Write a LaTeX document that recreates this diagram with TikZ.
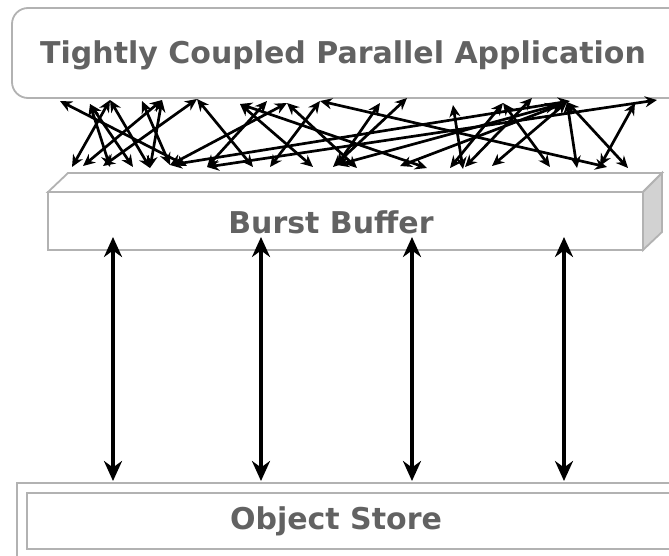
\documentclass[tikz,border=0pt]{standalone}
\usepackage{fontspec}
\setmainfont{DejaVu Sans}
\usetikzlibrary{arrows.meta}
\definecolor{boxline}{RGB}{178,178,178}
\definecolor{labelgray}{RGB}{98,98,98}
\definecolor{sidegray}{RGB}{210,210,210}

\begin{document}
\begin{tikzpicture}[x=1pt,y=-1pt,
  labeltext/.style={font=\bfseries\fontsize{30}{32}\selectfont, text=labelgray},
  mesh/.style={line width=2.7pt, {Stealth[length=12pt,width=11pt]}-{Stealth[length=12pt,width=11pt]}},
  link/.style={line width=3.8pt, {Stealth[length=20pt,width=18pt]}-{Stealth[length=20pt,width=18pt]}},
  frame/.style={draw=boxline, line width=1.8pt}]

\clip (0,0) rectangle (669,555);
\fill[white] (0,0) rectangle (669,555);

% application box
\draw[frame, rounded corners=16pt] (12,8) rectangle (700,98);
\node[labeltext] (app) at (343,55) {Tightly Coupled Parallel Application};

% burst buffer slab
\draw[frame, fill=white] (48,192) -- (68,173) -- (662,173) -- (643,192) -- cycle;
\draw[frame, fill=sidegray] (643,192) -- (662,173) -- (662,232) -- (643,250) -- cycle;
\draw[frame, fill=white] (48,192) rectangle (643,250);
\node[labeltext] (bb) at (331,222) {Burst Buffer};

% object store
\draw[frame] (17,483) rectangle (720,600);
\draw[frame] (27,493) rectangle (720,549);
\node[labeltext] (os) at (336,521) {Object Store};

% ends of the many-to-many links
\foreach \n/\x/\y in {60/60/101, 90/90/104, 110/110/100, 142/142/101, 162/162/100,
  197/197/99, 240/240/104, 267/267/101, 287/287/103, 320/320/101, 380/380/103,
  407/407/98, 453/453/105, 503/503/103, 532/532/98, 557/557/105, 563/563/104,
  567/567/102, 570/570/101, 635/635/103, 657/657/100}
  \coordinate (t\n) at (\x,\y);
\foreach \n/\x/\y in {72/72/167, 83/83/166, 103/103/166, 110/110/167, 133/133/167,
  150/150/168, 170/170/165, 187/187/166, 207/207/167, 253/253/167, 270/270/167,
  313/313/167, 333/333/167, 337/337/165, 357/357/168, 400/400/166, 427/427/168,
  450/450/168, 463/463/169, 465/465/167, 492/492/166, 550/550/167, 577/577/168,
  600/600/166, 607/607/167, 628/628/168}
  \coordinate (b\n) at (\x,\y);

\foreach \a/\b in {t60/b187, t90/b133, t90/b110, t110/b72, t110/b150, t142/b170,
  t162/b150, t162/b83, t197/b103, t197/b253, t240/b313, t267/b207, t287/b170,
  t320/b270, t320/b607, b170/t570, b207/t657, t380/b337, t407/b333, t287/b357,
  t240/b427, t453/b463, b400/t563, t503/b550, t532/b465, t567/b492, t567/b577,
  t567/b628, t635/b600, t503/b450, b337/t557}
  \draw[mesh] (\a) -- (\b);

% buffer to store links
\foreach \i/\x in {1/113, 2/261, 3/412, 4/564} {
  \coordinate (up\i) at (\x,237);
  \coordinate (dn\i) at (\x,481);
  \draw[link] (up\i) -- (dn\i);
}
\end{tikzpicture}
\end{document}
